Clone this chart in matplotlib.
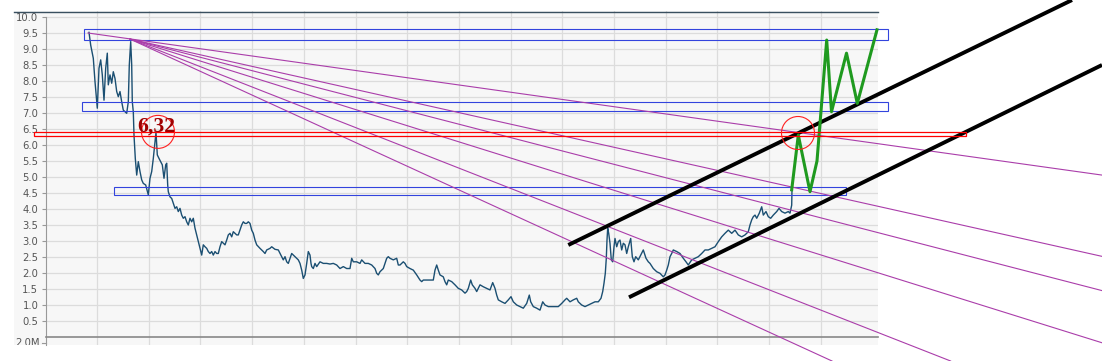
import numpy as np
import matplotlib
matplotlib.use("Agg")
import matplotlib.pyplot as plt
from matplotlib.patches import Rectangle, Ellipse
from matplotlib.lines import Line2D
from matplotlib.transforms import Bbox, TransformedBbox

# price history (day index, price)
days = [89, 90.7, 93.3, 95, 97.3, 99, 100.7, 102.3, 104, 105.7, 107.3, 108.3, 110, 111.7,
        113.3, 115, 116.7, 118.3, 120, 121.7, 123.3, 125, 126.7, 128.3, 129.3, 130.7, 131.7,
        132.3, 133.3, 134, 135.3, 136.7, 138.3, 140, 141.7, 143.3, 145.7, 148.3, 150, 151.7,
        153.3, 155, 156, 157.3, 159, 160.7, 162.3, 164, 165.7, 166.7, 167.7, 168.3, 170,
        171.7, 173.3, 175, 176.7, 178.3, 180, 181.7, 183.3, 185, 186.7, 188.3, 190, 191.7,
        193.3, 195, 196.7, 198.3, 200, 201.7, 203.3, 205, 206.7, 208.3, 210, 211.7, 213.3,
        215, 216.7, 218.3, 220, 221.7, 223.3, 225, 226.7, 228.3, 230, 231.7, 233.3, 235,
        236.7, 238.3, 240, 241.7, 243.3, 245, 246.7, 248.3, 250, 251.7, 253.3, 255, 256.7,
        260, 263.3, 265, 266.7, 270, 271.7, 275, 278.3, 281.7, 283.3, 285, 286.7, 288.3,
        290, 291.7, 293.3, 295, 296.7, 298.3, 300, 301.7, 303.3, 305, 306.7, 308.3, 310,
        311, 311.7, 313.3, 315, 316.7, 320, 323.3, 326.7, 330, 333.3, 336.7, 340, 343.3,
        346.7, 350, 351.7, 353.3, 356.7, 360, 361.7, 365, 368.3, 371.7, 375, 376.7, 378.3,
        380, 381.7, 383.3, 385, 386.7, 388.3, 390, 393.3, 396.7, 398.3, 400, 403.3, 405,
        406.7, 410, 413.3, 416.7, 420, 421.7, 423.3, 426.7, 430, 433.3, 435, 436.7, 438.3,
        440, 443.3, 445, 446.7, 448.3, 451.7, 455, 458.3, 461.7, 465, 466.7, 468.3, 470.7,
        472.3, 475, 476.7, 480, 483.3, 486.7, 490, 492.7, 495, 496.7, 498.3, 501.7, 505,
        508.3, 511, 513.3, 516.7, 520, 523.3, 526.7, 529.3, 530.7, 533.3, 536.7, 540, 542.7,
        545, 548.3, 551.7, 555, 558.3, 561.7, 565, 566.7, 570, 573.3, 576.7, 578.3, 581.7,
        585, 588.3, 591.7, 595, 598.3, 601, 602.7, 604, 605.3, 606.3, 607, 607.7, 608.7,
        610, 611.3, 612.7, 614, 615, 616.7, 618.3, 620, 621.7, 623.3, 625, 626.7, 628.3,
        630.7, 632.3, 634, 635.7, 638.3, 640.7, 643.3, 646, 648.3, 650, 653.3, 656.7, 660,
        663.3, 665, 666.7, 668.3, 670, 671.7, 673.3, 676.7, 680, 683.3, 686, 688.3, 691.7,
        695, 698.3, 701.7, 705, 708.3, 711.7, 715, 718.3, 721.7, 725, 728.3, 731.7, 735,
        738.3, 741.7, 745, 748.3, 750, 751.7, 753.3, 755, 756.7, 759.3, 761.7, 763.3, 766,
        768.3, 770.7, 773.3, 776.7, 779, 781.7, 785, 788.3, 790, 791.7, 792]
price = [9.52, 9.12, 8.71, 7.98, 7.15, 8.4, 8.66, 8.19, 7.4, 8.4, 8.87, 7.88, 8.19, 7.93,
         8.29, 8.08, 7.67, 7.51, 7.67, 7.35, 7.09, 7.04, 6.99, 7.35, 8.5, 9.23, 8.5,
         7.35, 7.04, 6.31, 5.58, 5.06, 5.48, 5.17, 4.91, 4.8, 4.75, 4.44, 4.96, 5.17,
         5.58, 6.1, 6.4, 5.69, 5.58, 5.48, 5.38, 4.96, 5.38, 5.43, 4.75, 4.54, 4.38,
         4.33, 4.18, 4.02, 4.07, 3.92, 4.02, 3.81, 3.71, 3.76, 3.6, 3.5, 3.71, 3.6,
         3.71, 3.4, 3.19, 2.98, 2.77, 2.56, 2.88, 2.82, 2.77, 2.67, 2.61, 2.67, 2.56,
         2.67, 2.61, 2.61, 2.82, 2.98, 2.93, 2.88, 3.03, 3.19, 3.24, 3.13, 3.29, 3.24,
         3.19, 3.19, 3.34, 3.5, 3.6, 3.55, 3.55, 3.6, 3.55, 3.34, 3.24, 3.03, 2.88,
         2.77, 2.67, 2.61, 2.72, 2.77, 2.82, 2.74, 2.72, 2.51, 2.41, 2.51, 2.35, 2.3,
         2.46, 2.61, 2.56, 2.51, 2.46, 2.41, 2.3, 2.09, 1.83, 1.94, 2.3, 2.67, 2.56,
         2.3, 2.2, 2.14, 2.3, 2.2, 2.35, 2.3, 2.3, 2.28, 2.3, 2.25, 2.14, 2.2,
         2.14, 2.14, 2.46, 2.35, 2.35, 2.3, 2.41, 2.3, 2.3, 2.25, 2.14, 1.99, 1.94,
         2.04, 2.09, 2.14, 2.3, 2.46, 2.51, 2.46, 2.41, 2.46, 2.25, 2.25, 2.35, 2.3,
         2.2, 2.14, 2.09, 1.94, 1.78, 1.73, 1.78, 1.78, 1.78, 1.78, 2.09, 2.25, 2.09,
         1.94, 1.88, 1.73, 1.63, 1.78, 1.73, 1.63, 1.52, 1.47, 1.37, 1.42, 1.52, 1.78,
         1.63, 1.52, 1.42, 1.63, 1.57, 1.52, 1.47, 1.7, 1.52, 1.31, 1.16, 1.1, 1.05,
         1.16, 1.26, 1.1, 1.0, 0.95, 0.9, 1.05, 1.31, 1.1, 0.95, 0.9, 0.84, 1.1,
         1.0, 0.95, 0.95, 0.95, 0.95, 1.05, 1.16, 1.21, 1.1, 1.16, 1.21, 1.1, 1.0,
         0.95, 1.0, 1.05, 1.1, 1.1, 1.21, 1.42, 1.68, 1.99, 2.46, 3.03, 3.4, 3.24,
         2.93, 2.41, 2.35, 2.82, 3.08, 2.82, 2.98, 3.03, 2.72, 2.93, 2.88, 2.61, 2.82,
         3.08, 2.51, 2.35, 2.51, 2.41, 2.56, 2.72, 2.46, 2.35, 2.3, 2.14, 2.04, 1.99,
         1.88, 1.94, 2.09, 2.25, 2.51, 2.61, 2.72, 2.67, 2.61, 2.46, 2.35, 2.25, 2.41,
         2.46, 2.51, 2.61, 2.72, 2.72, 2.77, 2.82, 2.98, 3.13, 3.24, 3.34, 3.24, 3.34,
         3.19, 3.13, 3.19, 3.29, 3.5, 3.66, 3.76, 3.81, 3.71, 3.87, 4.07, 3.81, 3.92,
         3.76, 3.71, 3.81, 3.92, 4.02, 3.92, 3.87, 3.92, 3.87, 4.12, 4.62]

# projected path (green)
proj_days = [791.7, 798.3, 810, 817, 826.7, 831.5, 846.5, 857.3, 877]
proj_price = [4.6, 6.31, 4.54, 5.5, 9.28, 7.04, 8.87, 7.3, 9.6]

# horizontal zones: (day start, day end, low, high)
blue_zones = [(84, 888, 9.27, 9.61), (82, 888, 7.05, 7.33), (114, 846, 4.43, 4.68)]
red_zone = (34, 966, 6.27, 6.42)
red_circles = [(158, 6.41), (798, 6.375)]
label_632 = (137.7, 6.42, "6,32")

# fan lines from the top
fan_main = [(88, 9.5), (1102, 5.06)]
fan_origin = (130, 9.31)
fan_ends = [(1102, 2.52), (1102, 1.45), (1102, -0.18), (950.6, -0.75), (832, -0.75)]

# trend channel (black)
channel = [[(568.3, 2.875), (1072, 10.53)], [(629, 1.24), (1102, 8.5)]]

yticks = np.arange(0.5, 10.01, 0.5)
xgrid = 97 + 51.7 * np.arange(15)

W, H = 1102, 361
fig = plt.figure(figsize=(W / 100, H / 100), dpi=100)
bg = "#f7f7f7"
fig.patches.append(Rectangle((14 / W, 16 / H), 864 / W, 334 / H, transform=fig.transFigure,
                             facecolor=bg, edgecolor="none", zorder=-10))
fig.lines.append(Line2D([14 / W, 878 / W], [349.5 / H, 349.5 / H], transform=fig.transFigure,
                        color="#3a5060", lw=1.0, zorder=5))

ax = fig.add_axes([46 / W, 16 / H, 832 / W, 334 / H])
ax.set_facecolor(bg)
ax.set_xlim(46, 878)
ax.set_ylim(-0.25, 10.1875)

for v in yticks:
    ax.axhline(v, color="#dcdcdc", lw=0.9, zorder=1)
for gx in xgrid:
    ax.axvline(gx, color="#dcdcdc", lw=0.9, zorder=1)

for s in ["top", "right"]:
    ax.spines[s].set_visible(False)
ax.spines["left"].set_color("#999999")
ax.spines["left"].set_bounds(-0.25, 10.0)
ax.spines["bottom"].set_position(("data", 0))
ax.spines["bottom"].set_color("#888888")
ax.spines["bottom"].set_linewidth(1.2)
ax.set_xticks([])
ax.set_yticks(yticks)
ax.set_yticklabels(["%.1f" % v for v in yticks])
ax.tick_params(axis="y", length=3, width=0.8, color="#999999", labelcolor="#555555",
               labelsize=7.2, pad=2.5)

clip = TransformedBbox(Bbox([[0, 16 / H], [1, 1]]), fig.transFigure)
t = ax.text(40, -0.19, "2.0M", ha="right", va="center", fontsize=7.2, color="#555555")
t.set_clip_box(clip)
t.set_clip_on(True)
ax.plot([42.5, 46], [-0.19, -0.19], color="#999999", lw=0.8, clip_on=False)

ax.plot(days, price, color="#1b4f72", lw=1.0, zorder=3)

for x0, x1, lo, hi in blue_zones:
    ax.add_patch(Rectangle((x0, lo), x1 - x0, hi - lo, fill=False, edgecolor="#3344dd",
                           lw=0.8, clip_on=False, zorder=4))

x0, x1, lo, hi = red_zone
ax.add_patch(Rectangle((x0, lo), x1 - x0, hi - lo, fill=False, edgecolor="#ff0000",
                       lw=0.9, clip_on=False, zorder=6))

ax.plot([p[0] for p in fan_main], [p[1] for p in fan_main], color="#aa3daa", lw=0.8,
        clip_on=False, zorder=4)
for ex, ey in fan_ends:
    ax.plot([fan_origin[0], ex], [fan_origin[1], ey], color="#aa3daa", lw=0.8,
            clip_on=False, zorder=4)

for seg in channel:
    ax.plot([seg[0][0], seg[1][0]], [seg[0][1], seg[1][1]], color="black", lw=2.8,
            solid_capstyle="butt", clip_on=False, zorder=5)

ax.plot(proj_days, proj_price, color="#1f9a1f", lw=2.2, clip_on=False, zorder=5)

for cx, cy in red_circles:
    ax.add_patch(Ellipse((cx, cy), 33, 33 / 32, fill=False, edgecolor="#ff2020", lw=0.8,
                         clip_on=False, zorder=7))

ax.text(label_632[0], label_632[1], label_632[2], family="Liberation Serif",
        fontweight="bold", fontsize=15.6, color="#a00000", ha="left", va="baseline",
        zorder=8)

fig.savefig("out.png", dpi=100)
